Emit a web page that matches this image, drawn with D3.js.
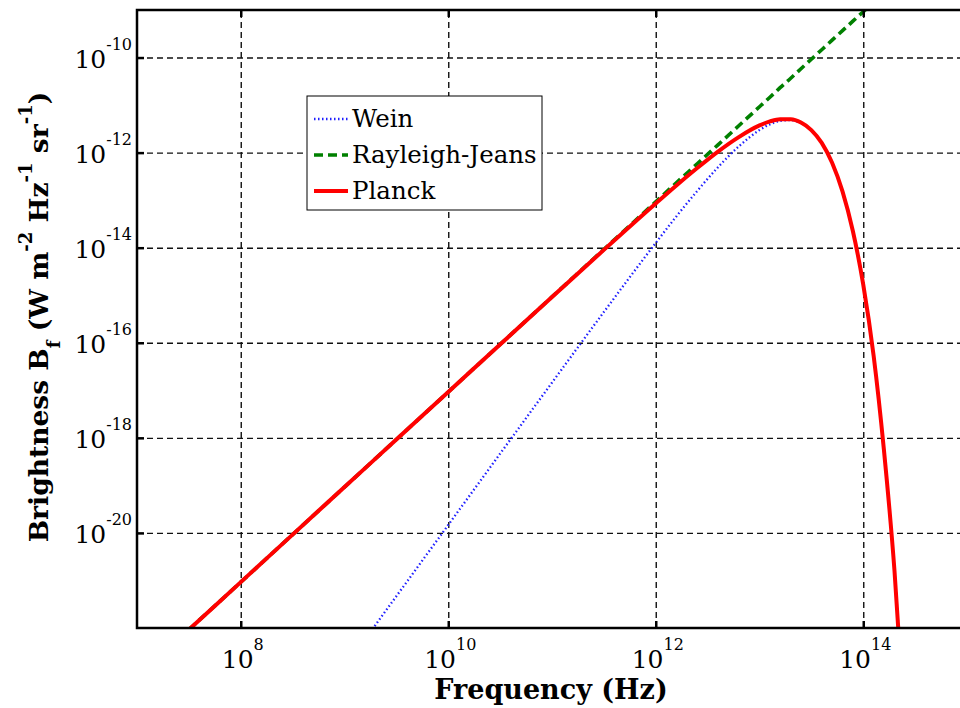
<!DOCTYPE html>
<html>
<head>
<meta charset="utf-8">
<script src="https://cdn.jsdelivr.net/npm/d3@7"></script>
<style>
  body { margin: 0; background: #fff; }
  text { font-family: "DejaVu Serif", serif; fill: #000; }
</style>
</head>
<body>
<div id="chart"></div>
<script>
var svgWidth = 960;
var svgHeight = 708;

var margin = {
  top: 10,
  right: -7,
  bottom: 80,
  left: 137
};

var width = svgWidth - margin.left - margin.right;
var height = svgHeight - margin.top - margin.bottom;

// frequency samples (Hz)
var frequency = [1e7, 3.16e7, 1e8, 3.16e8, 1e9, 3.16e9, 1e10, 3.16e10, 1e11, 3.16e11,
  1e12, 1.58e12, 2.51e12, 3.98e12, 6.31e12, 1e13, 1.26e13, 1.58e13, 2.0e13, 2.51e13,
  3.16e13, 3.98e13, 5.01e13, 6.31e13, 7.94e13, 1e14, 1.26e14, 1.58e14, 2.0e14, 2.51e14];

// brightness (W m^-2 Hz^-1 sr^-1) for each curve
var wein = [1.47e-29, 4.66e-28, 1.47e-26, 4.66e-25, 1.47e-23, 4.66e-22, 1.47e-20, 4.64e-19, 1.45e-17, 4.43e-16,
  1.26e-14, 4.55e-14, 1.56e-13, 4.92e-13, 1.35e-12, 2.98e-12, 3.93e-12, 4.65e-12, 4.81e-12, 4.20e-12,
  2.96e-12, 1.60e-12, 6.12e-13, 1.53e-13, 2.24e-14, 1.67e-15, 5.28e-17, 5.74e-19, 1.61e-21, 8.29e-25];

var rayleighJeans = [9.22e-24, 9.22e-23, 9.22e-22, 9.22e-21, 9.22e-20, 9.22e-19, 9.22e-18, 9.22e-17, 9.22e-16, 9.22e-15,
  9.22e-14, 2.32e-13, 5.82e-13, 1.46e-12, 3.67e-12, 9.22e-12, 1.46e-11, 2.32e-11, 3.67e-11, 5.82e-11,
  9.22e-11, 1.46e-10, 2.32e-10, 3.67e-10, 5.82e-10, 9.22e-10, 1.46e-9, 2.32e-9, 3.67e-9, 5.82e-9];

var planck = [9.22e-24, 9.22e-23, 9.22e-22, 9.22e-21, 9.22e-20, 9.22e-19, 9.21e-18, 9.20e-17, 9.15e-16, 8.99e-15,
  8.50e-14, 2.03e-13, 4.73e-13, 1.05e-12, 2.12e-12, 3.73e-12, 4.53e-12, 5.05e-12, 5.02e-12, 4.28e-12,
  2.98e-12, 1.60e-12, 6.12e-13, 1.53e-13, 2.24e-14, 1.67e-15, 5.28e-17, 5.74e-19, 1.61e-21, 8.29e-25];

// ticks
var xTicks = [1e8, 1e10, 1e12, 1e14];
var xTickExp = ["8", "10", "12", "14"];
var yTicks = [1e-10, 1e-12, 1e-14, 1e-16, 1e-18, 1e-20];
var yTickExp = ["-10", "-12", "-14", "-16", "-18", "-20"];

var seriesNames = ["Wein", "Rayleigh-Jeans", "Planck"];

var svg = d3.select("#chart")
  .append("svg")
  .attr("width", svgWidth)
  .attr("height", svgHeight);

var chartGroup = svg.append("g")
  .attr("transform", `translate(${margin.left}, ${margin.top})`);

var xLogScale = d3.scaleLog()
  .domain([1e7, 1e15])
  .range([0, width]);

var yLogScale = d3.scaleLog()
  .domain([1e-22, 1e-9])
  .range([height, 0]);

// dashed grid
var xGrid = chartGroup.append("g")
  .attr("transform", `translate(0, ${height})`)
  .call(d3.axisBottom(xLogScale).tickValues(xTicks).tickSize(-height).tickFormat(""));
var yGrid = chartGroup.append("g")
  .call(d3.axisLeft(yLogScale).tickValues(yTicks).tickSize(-width).tickFormat(""));
[xGrid, yGrid].forEach(function(g) {
  g.select(".domain").remove();
  g.selectAll("line")
    .attr("stroke", "#111")
    .attr("stroke-width", 1.4)
    .attr("stroke-dasharray", "6,4");
});

// curves
var clip = chartGroup.append("clipPath").attr("id", "plotClip")
  .append("rect").attr("width", width).attr("height", height);

function makeLine(values) {
  return d3.line()
    .x((d, i) => xLogScale(frequency[i]))
    .y(d => yLogScale(d))
    .curve(d3.curveMonotoneX)(values);
}

var curves = chartGroup.append("g").attr("clip-path", "url(#plotClip)");

var styles = [
  {color: "#1f1fff", width: 2.3, dash: "1.5,2.5"},
  {color: "#008000", width: 3.6, dash: "9,5"},
  {color: "#ff0000", width: 4, dash: null}
];

[wein, rayleighJeans, planck].forEach(function(values, i) {
  curves.append("path")
    .attr("d", makeLine(values))
    .attr("fill", "none")
    .attr("stroke", styles[i].color)
    .attr("stroke-width", styles[i].width)
    .attr("stroke-dasharray", styles[i].dash);
});

// box + inward ticks
chartGroup.append("rect")
  .attr("width", width)
  .attr("height", height)
  .attr("fill", "none")
  .attr("stroke", "#000")
  .attr("stroke-width", 2.5);

var tickAxes = [
  chartGroup.append("g").attr("transform", `translate(0, ${height})`)
    .call(d3.axisBottom(xLogScale).tickValues(xTicks).tickSize(-7).tickFormat("")),
  chartGroup.append("g")
    .call(d3.axisTop(xLogScale).tickValues(xTicks).tickSize(-7).tickFormat("")),
  chartGroup.append("g")
    .call(d3.axisLeft(yLogScale).tickValues(yTicks).tickSize(-7).tickFormat(""))
];
tickAxes.forEach(function(g) {
  g.select(".domain").remove();
  g.selectAll("line").attr("stroke", "#000").attr("stroke-width", 2.5);
});

// tick labels with superscripts
xTicks.forEach(function(v, i) {
  var t = chartGroup.append("text")
    .attr("x", xLogScale(v) + 2)
    .attr("y", height + 40)
    .attr("text-anchor", "middle")
    .style("font-size", "25px")
    .text("10");
  t.append("tspan").attr("dy", -18).style("font-size", "16px").text(xTickExp[i]);
});

yTicks.forEach(function(v, i) {
  var t = chartGroup.append("text")
    .attr("x", -5)
    .attr("y", yLogScale(v) + 10)
    .attr("text-anchor", "end")
    .style("font-size", "25px")
    .text("10");
  t.append("tspan").attr("dy", -18).style("font-size", "16px").text(yTickExp[i]);
});

// axis titles
chartGroup.append("text")
  .attr("x", 414)
  .attr("y", height + 71)
  .attr("text-anchor", "middle")
  .style("font-size", "27px")
  .style("font-weight", "bold")
  .text("Frequency (Hz)");

var yTitle = svg.append("text")
  .attr("transform", "translate(48, 317) rotate(-90)")
  .attr("text-anchor", "middle")
  .style("font-size", "26.5px")
  .style("font-weight", "bold");
yTitle.append("tspan").text("Brightness B");
yTitle.append("tspan").attr("dy", 12).style("font-size", "18px").text("f");
yTitle.append("tspan").attr("dy", -12).text(" (W m");
yTitle.append("tspan").attr("dy", -16).style("font-size", "18px").text("-2");
yTitle.append("tspan").attr("dy", 16).text(" Hz");
yTitle.append("tspan").attr("dy", -16).style("font-size", "18px").text("-1");
yTitle.append("tspan").attr("dy", 16).text(" sr");
yTitle.append("tspan").attr("dy", -16).style("font-size", "18px").text("-1");
yTitle.append("tspan").attr("dy", 16).text(")");

// legend
var legend = svg.append("g").attr("transform", "translate(307, 96)");
legend.append("rect")
  .attr("width", 235)
  .attr("height", 114)
  .attr("fill", "#fff")
  .attr("stroke", "#000")
  .attr("stroke-width", 1);

seriesNames.forEach(function(name, i) {
  var yPos = 23 + i * 36;
  legend.append("line")
    .attr("x1", 7).attr("x2", 41)
    .attr("y1", yPos).attr("y2", yPos)
    .attr("stroke", styles[i].color)
    .attr("stroke-width", styles[i].width)
    .attr("stroke-dasharray", styles[i].dash);
  legend.append("text")
    .attr("x", 45)
    .attr("y", yPos + 8)
    .style("font-size", "24.5px")
    .text(name);
});
</script>
</body>
</html>
